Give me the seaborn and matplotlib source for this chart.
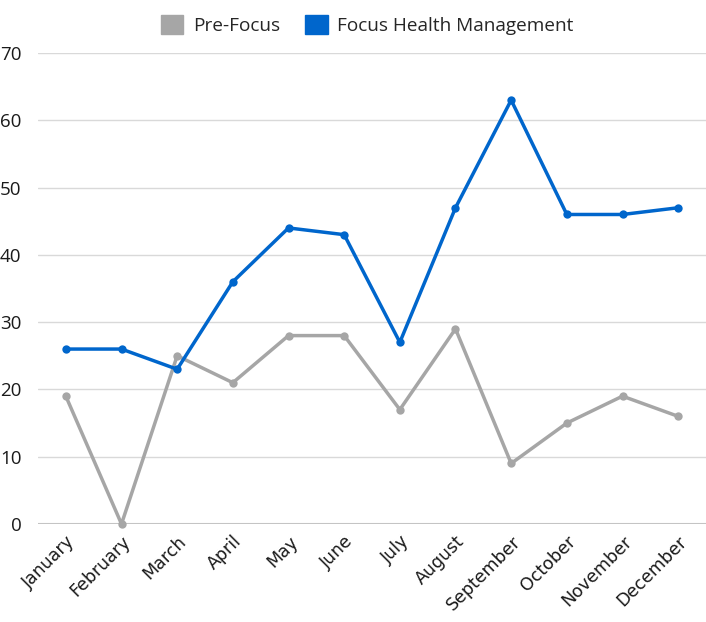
import pandas as pd
import numpy as np
import seaborn as sns
import matplotlib.pyplot as plt
from matplotlib.patches import Patch

months = ['January', 'February', 'March', 'April', 'May', 'June', 'July',
          'August', 'September', 'October', 'November', 'December']
pre_focus = [19, 0, 25, 21, 28, 28, 17, 29, 9, 15, 19, 16]
focus_hm = [26, 26, 23, 36, 44, 43, 27, 47, 63, 46, 46, 47]

df = pd.DataFrame({'month': months * 2,
                   'value': pre_focus + focus_hm,
                   'series': ['Pre-Focus'] * 12 + ['Focus Health Management'] * 12})
colors = {'Pre-Focus': '#A6A6A6', 'Focus Health Management': '#0066CC'}

sns.set_style('white')
plt.rcParams['font.family'] = ['Open Sans', 'DejaVu Sans']

fig = plt.figure(figsize=(7.06, 6.22), dpi=100)
ax = fig.add_axes([38 / 706, 1 - 524 / 622, 1 - 38 / 706, (524 - 53) / 622])

sns.lineplot(data=df, x='month', y='value', hue='series', palette=colors,
             marker='o', markersize=6, markeredgewidth=0, linewidth=2.5,
             sort=False, ax=ax, legend=False, clip_on=False)

ax.set_xlim(-0.5, 11.5)
ax.set_ylim(0, 70)
ax.set_yticks(range(0, 71, 10))
ax.yaxis.grid(True, color='#D9D9D9', linewidth=1)
ax.set_axisbelow(True)
for s in ax.spines.values():
    s.set_visible(False)
ax.axhline(0, color='#BFBFBF', linewidth=1.5, zorder=0.5)
ax.set_xlabel('')
ax.set_ylabel('')
ax.tick_params(axis='both', length=0, labelsize=13.5, colors='#1a1a1a')
ax.tick_params(axis='y', pad=12)
ax.tick_params(axis='x', pad=6)
plt.setp(ax.get_xticklabels(), rotation=45, ha='right', rotation_mode='anchor',
         family='DejaVu Sans', fontsize=12.5)

handles = [Patch(color=colors[k], label=k) for k in ['Pre-Focus', 'Focus Health Management']]
fig.legend(handles=handles, loc='center', bbox_to_anchor=(0.52, 1 - 25 / 622), ncol=2,
           frameon=False, fontsize=13.7, handlelength=1.2, handleheight=1.2,
           handletextpad=0.5, columnspacing=1.3)

fig.savefig('out.png', dpi=100)
